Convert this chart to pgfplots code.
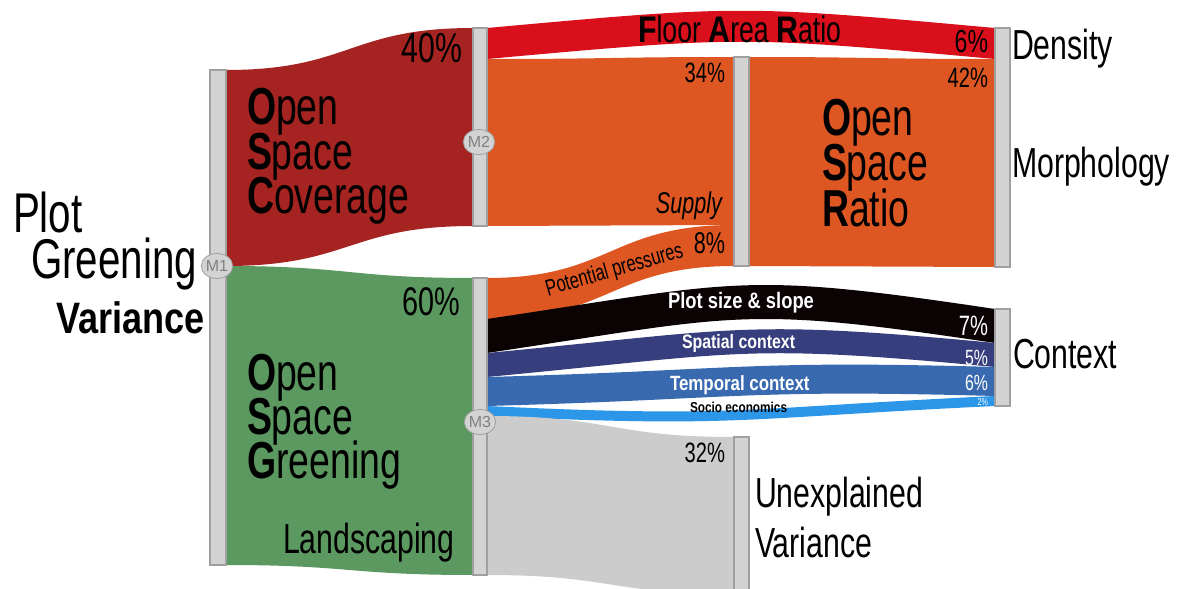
\documentclass[border=0pt]{standalone}
\usepackage{pgfplots}
\pgfplotsset{compat=1.18}
\usepackage{fontspec}
\setmainfont{Liberation Sans}[FakeStretch=0.72]
\newfontfamily\bfam{Liberation Sans}[FakeStretch=0.82]
\newfontfamily\mfont{Liberation Sans}
\usetikzlibrary{shapes.geometric}

\definecolor{osc}{HTML}{A52320}
\definecolor{osg}{HTML}{5B9960}
\definecolor{far}{HTML}{D90F1C}
\definecolor{osr}{HTML}{DE5723}
\definecolor{plotsz}{HTML}{0A0203}
\definecolor{spatial}{HTML}{363E7D}
\definecolor{temporal}{HTML}{396AAF}
\definecolor{socio}{HTML}{2C96E8}
\definecolor{unexp}{HTML}{CCCCCC}
\definecolor{barfill}{HTML}{D3D3D3}
\definecolor{baredge}{HTML}{A0A0A0}

\newcommand{\fs}[1]{\fontsize{#1}{#1}\selectfont}
\newcommand{\B}[1]{{\bfam\bfseries #1}}
% three-line block, first baseline at the node's base; #1 = line step in pt
\newcommand{\blk}[4]{\parbox[t]{60mm}{\fontsize{26}{#1}\selectfont\lineskiplimit=-100pt\raggedright #2\\#3\\#4}}

% flow band: x0, top0, bot0, x1, top1, bot1, hump, colour
\newcommand{\band}[8]{%
  \pgfmathsetmacro\bxm{(#1+#4)/2}%
  \pgfmathsetmacro\bta{#2+#7}%
  \pgfmathsetmacro\btb{#5+#7}%
  \pgfmathsetmacro\bba{#6+#7}%
  \pgfmathsetmacro\bbb{#3+#7}%
  \edef\bandcmd{\noexpand\fill[#8] (axis cs:#1,#2) .. controls (axis cs:\bxm,\bta) and (axis cs:\bxm,\btb) .. (axis cs:#4,#5)
    -- (axis cs:#4,#6) .. controls (axis cs:\bxm,\bba) and (axis cs:\bxm,\bbb) .. (axis cs:#1,#3) -- cycle;}%
  \bandcmd}

\tikzset{lab/.style={inner sep=0pt, outer sep=0pt}}

\begin{document}
\begin{tikzpicture}
\begin{axis}[
    scale only axis,
    width=595.5pt, height=294.5pt,
    xmin=0, xmax=1191, ymin=0, ymax=589,
    y dir=reverse,
    hide axis,
]
% flows (pixel geometry; 1 % of variance ~ 4.9 px)
\band{226}{70}{266}{473}{28}{226}{0}{osc}
\band{226}{266}{565}{473}{278}{575}{0}{osg}
\band{487}{28}{59}{995}{28}{59}{-23}{far}
\band{487}{59}{226}{734}{57}{225}{0}{osr}
\band{487}{278}{319}{734}{225}{266}{0}{osr}
\band{749}{57}{266}{995}{59}{267}{0}{osr}
\band{487}{319}{353}{995}{309}{343}{-38}{plotsz}
\band{487}{353}{377}{995}{343}{367}{-24}{spatial}
\band{487}{377}{406}{995}{367}{396}{-7}{temporal}
\band{487}{406}{416}{995}{396}{406}{12}{socio}
\band{487}{416}{575}{734}{437}{594}{0}{unexp}

% node bars
\addplot[fill=barfill, draw=baredge, line width=0.6pt] coordinates {(210,70) (226,70) (226,565) (210,565)} -- cycle;
\addplot[fill=barfill, draw=baredge, line width=0.6pt] coordinates {(473,28) (487,28) (487,226) (473,226)} -- cycle;
\addplot[fill=barfill, draw=baredge, line width=0.6pt] coordinates {(473,278) (487,278) (487,575) (473,575)} -- cycle;
\addplot[fill=barfill, draw=baredge, line width=0.6pt] coordinates {(734,57) (749,57) (749,266) (734,266)} -- cycle;
\addplot[fill=barfill, draw=baredge, line width=0.6pt] coordinates {(734,437) (749,437) (749,600) (734,600)} -- cycle;
\addplot[fill=barfill, draw=baredge, line width=0.6pt] coordinates {(995,28) (1010,28) (1010,267) (995,267)} -- cycle;
\addplot[fill=barfill, draw=baredge, line width=0.6pt] coordinates {(995,309) (1010,309) (1010,406) (995,406)} -- cycle;

% model markers
\node[ellipse, minimum width=15pt, minimum height=12.5pt, inner sep=0pt, fill=barfill, draw=baredge, text=black!50, font=\mfont\fs{8}] at (axis cs:217,266) {M1};
\node[ellipse, minimum width=15pt, minimum height=12.5pt, inner sep=0pt, fill=barfill, draw=baredge, text=black!50, font=\mfont\fs{8}] at (axis cs:479,142) {M2};
\node[ellipse, minimum width=15pt, minimum height=12.5pt, inner sep=0pt, fill=barfill, draw=baredge, text=black!50, font=\mfont\fs{8}] at (axis cs:480,422) {M3};

% left title
\node[lab, anchor=base west, text depth=0pt] at (axis cs:13,232) {\fs{28}Plot};
\node[lab, anchor=base east, text depth=0pt] at (axis cs:197,278) {\fs{28}Greening};
\node[lab, anchor=base east] at (axis cs:205,333) {\fs{22}\B{Variance}};

% OSC
\node[lab, anchor=base west] at (axis cs:247,125) {\blk{22}{\textbf{O}pen}{\textbf{S}pace}{\textbf{C}overage}};
\node[lab, anchor=base east] at (axis cs:462,62) {\fs{21}40\%};
% OSG
\node[lab, anchor=base west] at (axis cs:247,390) {\blk{22}{\textbf{O}pen}{\textbf{S}pace}{\textbf{G}reening}};
\node[lab, anchor=base east] at (axis cs:460,315) {\fs{20}60\%};
\node[lab, anchor=base west] at (axis cs:283,553) {\fs{21}Landscaping};

% M2 branch
\node[lab, anchor=base west] at (axis cs:638,42) {\fs{18.5}\B{F}loor \B{A}rea \B{R}atio};
\node[lab, anchor=base east] at (axis cs:988,53) {\fs{16}6\%};
\node[lab, anchor=base east] at (axis cs:725,83) {\fs{14}34\%};
\node[lab, anchor=base east] at (axis cs:722,213) {\fs{15}\itshape Supply};
\node[lab, anchor=base east] at (axis cs:725,253) {\fs{15}8\%};
\node[lab, anchor=base west, rotate=16] at (axis cs:548,296) {\fs{11.5}Potential pressures};

% OSR
\node[lab, anchor=base west] at (axis cs:822,135) {\blk{22.75}{\textbf{O}pen}{\textbf{S}pace}{\textbf{R}atio}};
\node[lab, anchor=base east] at (axis cs:988,87) {\fs{14}42\%};
\node[lab, anchor=base west] at (axis cs:1012,60) {\fs{21}Density};
\node[lab, anchor=base west] at (axis cs:1012,177) {\fs{21}Morphology};

% context
\node[lab, anchor=base west, text=white] at (axis cs:668,308) {\fs{11.2}\B{Plot size \& slope}};
\node[lab, anchor=base east, text=white] at (axis cs:988,335) {\fs{14}7\%};
\node[lab, anchor=base west, text=white] at (axis cs:682,348) {\fs{9.7}\B{Spatial context}};
\node[lab, anchor=base east, text=white] at (axis cs:988,365) {\fs{11}5\%};
\node[lab, anchor=base west, text=white] at (axis cs:670,390) {\fs{10.3}\B{Temporal context}};
\node[lab, anchor=base east, text=white] at (axis cs:988,390) {\fs{11}6\%};
\node[lab, anchor=base west] at (axis cs:690,412) {\fs{7.2}\B{Socio economics}};
\node[lab, anchor=base east, text=white] at (axis cs:988,405) {\fs{5}2\%};
\node[lab, anchor=base west] at (axis cs:1013,368) {\fs{21}Context};

% unexplained
\node[lab, anchor=base east] at (axis cs:725,462) {\fs{14}32\%};
\node[lab, anchor=base west] at (axis cs:755,507) {\fs{21}Unexplained};
\node[lab, anchor=base west] at (axis cs:755,557) {\fs{21}Variance};
\end{axis}
\pgfresetboundingbox
\path[use as bounding box] (current axis.south west) rectangle (current axis.north east);
\end{tikzpicture}
\end{document}
